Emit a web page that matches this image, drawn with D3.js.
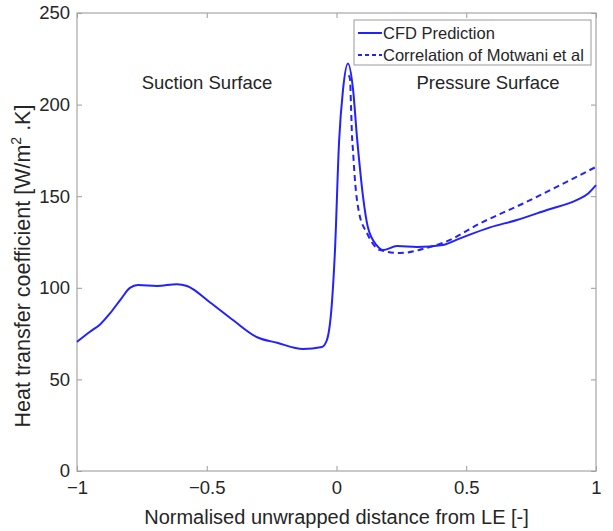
<!DOCTYPE html>
<html>
<head>
<meta charset="utf-8">
<script src="https://cdn.jsdelivr.net/npm/d3@7.9.0/dist/d3.min.js"></script>
<style>
  body { margin: 0; background: #fff; }
  text { font-family: "Liberation Sans", Arial, sans-serif; fill: #262626; }
</style>
</head>
<body>
<svg id="chart" width="613" height="531"></svg>
<script>
// CFD prediction (solid)
const cfdX = [-1, -0.95, -0.911, -0.873, -0.83, -0.796, -0.765, -0.692, -0.615, -0.576, -0.487, -0.399,
  -0.306, -0.229, -0.129, -0.056, -0.037, -0.017, -0.006, 0.01, 0.025, 0.044, 0.064, 0.079, 0.087,
  0.102, 0.121, 0.156, 0.179, 0.233, 0.31, 0.41, 0.476, 0.592, 0.695, 0.811, 0.927, 0.97, 1.0];
const cfdY = [70.5, 76, 80, 86, 94, 100, 101.5, 101, 102, 101, 92, 82.4,
  73, 70, 66.6, 67.7, 71.5, 93, 120, 180, 208, 222.5, 208, 182, 170,
  150, 133, 123, 120.6, 122.8, 122.3, 123.4, 127, 133, 137, 142.5, 148, 151.5, 156];

// Correlation of Motwani et al (dashed)
const motX = [0.047, 0.052, 0.056, 0.06, 0.063, 0.071, 0.087, 0.117, 0.168, 0.245, 0.36, 0.41, 0.565, 0.719, 0.861, 1.0];
const motY = [216, 214, 199, 182, 176, 159, 141, 130, 120.6, 119, 122.3, 124.5, 136, 146, 156, 166];

const xTicks = [-1, -0.5, 0, 0.5, 1];
const yTicks = [0, 50, 100, 150, 200, 250];

const svg = d3.select('#chart');
const mLeft = 77, mRight = 596, mTop = 13, mBottom = 471;

let x = d3.scaleLinear().domain([-1, 1]).range([mLeft, mRight]);
let y = d3.scaleLinear().domain([0, 250]).range([mBottom, mTop]);

// ticks (inward, all four sides)
const g = svg.append('g');
g.append('g').attr('transform', `translate(0,${mBottom})`)
  .call(d3.axisBottom(x).tickValues(xTicks).tickSize(-5).tickPadding(10).tickFormat(d3.format('')));
g.append('g').attr('transform', `translate(0,${mTop})`)
  .call(d3.axisTop(x).tickValues(xTicks).tickSize(-5).tickFormat(''));
g.append('g').attr('transform', `translate(${mLeft},0)`)
  .call(d3.axisLeft(y).tickValues(yTicks).tickSize(-5).tickPadding(7));
g.append('g').attr('transform', `translate(${mRight},0)`)
  .call(d3.axisRight(y).tickValues(yTicks).tickSize(-5).tickFormat(''));
g.selectAll('.domain').remove();
g.selectAll('line').attr('stroke', '#9a9a9a');
g.selectAll('.tick text').style('font-size', '18.5px').attr('fill', '#262626')
  .style('font-family', '"Liberation Sans", Arial, sans-serif');

svg.append('rect').attr('x', mLeft).attr('y', mTop)
  .attr('width', mRight - mLeft).attr('height', mBottom - mTop)
  .attr('fill', 'none').attr('stroke', '#a6a6a6').attr('stroke-width', 1.2);

let line = d3.line().x(d => x(d[0])).y(d => y(d[1])).curve(d3.curveMonotoneX);

svg.append('path').datum(d3.zip(cfdX, cfdY)).attr('d', line)
  .attr('fill', 'none').attr('stroke', '#2222ff').attr('stroke-width', 2);
svg.append('path').datum(d3.zip(motX, motY)).attr('d', line)
  .attr('fill', 'none').attr('stroke', '#2222ff').attr('stroke-width', 2)
  .attr('stroke-dasharray', '6,4');

// surface annotations
svg.append('text').attr('x', 207).attr('y', 89).attr('text-anchor', 'middle')
  .style('font-size', '18.5px').text('Suction Surface');
svg.append('text').attr('x', 488).attr('y', 89).attr('text-anchor', 'middle')
  .style('font-size', '18.5px').text('Pressure Surface');

// legend
const lg = svg.append('g');
lg.append('rect').attr('x', 354).attr('y', 20).attr('width', 237).attr('height', 45)
  .attr('fill', '#fff').attr('stroke', '#9a9a9a');
lg.append('line').attr('x1', 358).attr('x2', 382).attr('y1', 33).attr('y2', 33)
  .attr('stroke', '#2222ff').attr('stroke-width', 2);
lg.append('line').attr('x1', 358).attr('x2', 382).attr('y1', 55).attr('y2', 55)
  .attr('stroke', '#2222ff').attr('stroke-width', 2).attr('stroke-dasharray', '4,3');
lg.append('text').attr('x', 383).attr('y', 39).style('font-size', '16.5px').text('CFD Prediction');
lg.append('text').attr('x', 383).attr('y', 61).style('font-size', '16.5px').text('Correlation of Motwani et al');

// axis labels
svg.append('text').attr('x', (mLeft + mRight) / 2).attr('y', 524).attr('text-anchor', 'middle')
  .style('font-size', '20px').text('Normalised unwrapped distance from LE [-]');
const yl = svg.append('text').attr('transform', `translate(30,266) rotate(-90)`)
  .attr('text-anchor', 'middle').style('font-size', '21.5px');
yl.append('tspan').text('Heat transfer coefficient [W/m');
yl.append('tspan').attr('dy', -9).style('font-size', '14px').text('2');
yl.append('tspan').attr('dy', 9).text(' .K]');
</script>
</body>
</html>
